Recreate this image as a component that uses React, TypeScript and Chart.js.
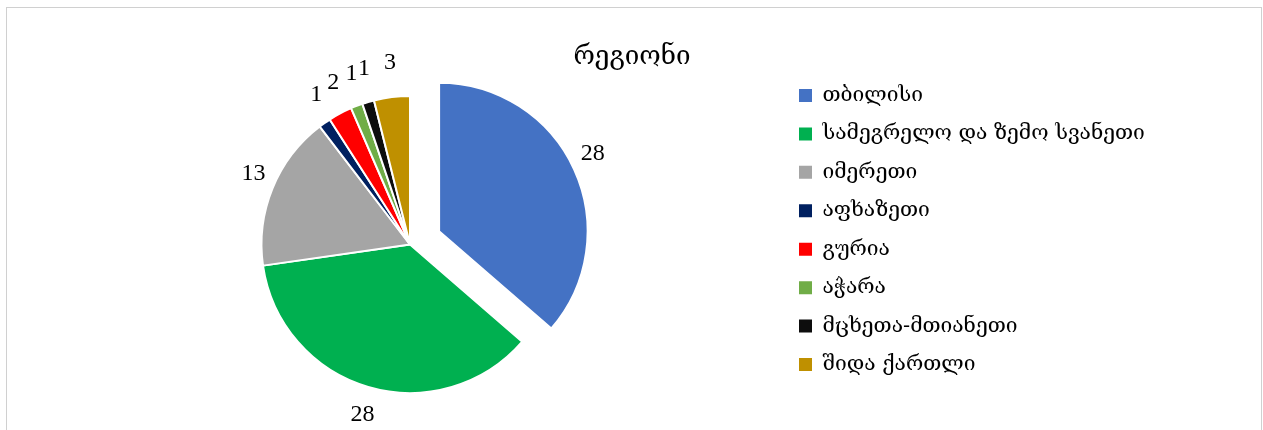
import React, { useEffect, useRef } from "react";
import { Chart, registerables } from "chart.js";

Chart.register(...registerables);

const TITLE = "რეგიონი";
const REGIONS = [
  "თბილისი",
  "სამეგრელო და ზემო სვანეთი",
  "იმერეთი",
  "აფხაზეთი",
  "გურია",
  "აჭარა",
  "მცხეთა-მთიანეთი",
  "შიდა ქართლი",
];
const COUNTS = [28, 28, 13, 1, 2, 1, 1, 3];
const COLORS = ["#4472C4", "#00B050", "#A5A5A5", "#002060", "#FF0000", "#70AD47", "#0D0D0D", "#BF9000"];
const EXPLODE = [32, 0, 0, 0, 0, 0, 0, 0];

const GEO_FONT = "'DejaVu Serif', serif";
const NUM_FONT = "'Liberation Serif', 'DejaVu Serif', serif";
const LABEL_SIZE = 24;
const LABEL_GAP = 8.5; // gap beyond outer radius before the label box
const LABEL_HALF_H = 23.3; // vertical half extent of label box
const LABEL_NUDGE_Y = -2.5;
const LEGEND_WIDTH = 444;

const explodePlugin = {
  id: "explodeSlices",
  afterDatasetUpdate(chart: any, args: any) {
    const meta = args.meta;
    meta.data.forEach((el: any, i: number) => {
      const d = EXPLODE[i] || 0;
      if (!d) return;
      const mid = (el.startAngle + el.endAngle) / 2;
      el.x += Math.cos(mid) * d;
      el.y += Math.sin(mid) * d;
    });
  },
};

const labelsPlugin = {
  id: "sliceLabels",
  afterDatasetsDraw(chart: any) {
    const ctx = chart.ctx;
    const meta = chart.getDatasetMeta(0);
    const data = chart.data.datasets[0].data;
    ctx.save();
    ctx.font = LABEL_SIZE + "px " + NUM_FONT;
    ctx.fillStyle = "#000";
    ctx.textAlign = "center";
    ctx.textBaseline = "middle";
    meta.data.forEach((el: any, i: number) => {
      const txt = String(data[i]);
      const hw = ctx.measureText(txt).width / 2;
      const mid = (el.startAngle + el.endAngle) / 2;
      const dx = Math.cos(mid);
      const dy = Math.sin(mid);
      const r = el.outerRadius + LABEL_GAP;
      ctx.fillText(txt, el.x + dx * r + dx * hw, el.y + dy * r + dy * LABEL_HALF_H + LABEL_NUDGE_Y);
    });
    ctx.restore();
  },
};

const legendWidthPlugin = {
  id: "legendWidth",
  beforeLayout(chart: any) {
    const lg = chart.legend;
    if (lg && !lg.__patched) {
      const orig = lg.fit.bind(lg);
      lg.fit = function () {
        orig();
        this.width = LEGEND_WIDTH;
      };
      lg.__patched = true;
    }
  },
};

export default function App() {
  const ref = useRef<HTMLCanvasElement>(null);
  useEffect(() => {
    const canvas = ref.current!;
    const baseGen = (Chart as any).overrides.doughnut.plugins.legend.labels.generateLabels;
    const chart = new Chart(canvas, {
      type: "pie",
      data: {
        labels: REGIONS,
        datasets: [
          {
            data: COUNTS,
            backgroundColor: COLORS,
            borderColor: "#ffffff",
            borderWidth: 2,
            radius: 148.5,
          } as any,
        ],
      },
      options: {
        responsive: false,
        animation: false,
        devicePixelRatio: 1,
        events: [],
        layout: { padding: { left: 31.43, right: 35.43, top: 22, bottom: 0 } },
        plugins: {
          title: {
            display: true,
            text: TITLE,
            color: "#000",
            font: { family: GEO_FONT, size: 26, weight: "normal" },
            padding: { top: 11.4, bottom: -13.6 },
          },
          legend: {
            position: "right",
            align: "center",
            labels: {
              color: "#000",
              font: { family: GEO_FONT, size: 21 },
              boxWidth: 13,
              boxHeight: 13,
              padding: 17.43,
              generateLabels(c: any) {
                return baseGen(c).map((it: any) => ({ ...it, lineWidth: 0, strokeStyle: "rgba(0,0,0,0)" }));
              },
            },
          },
          tooltip: { enabled: false },
        },
      } as any,
      plugins: [explodePlugin, labelsPlugin, legendWidthPlugin],
    });
    return () => chart.destroy();
  }, []);
  return (
    <div
      style={{
        position: "absolute",
        left: 6,
        top: 7,
        width: 1254,
        height: 422,
        border: "1px solid #d0d0d0",
        borderBottom: "none",
        background: "#fff",
      }}
    >
      <canvas ref={ref} width={1254} height={422} style={{ display: "block", width: 1254, height: 422 }} />
    </div>
  );
}
